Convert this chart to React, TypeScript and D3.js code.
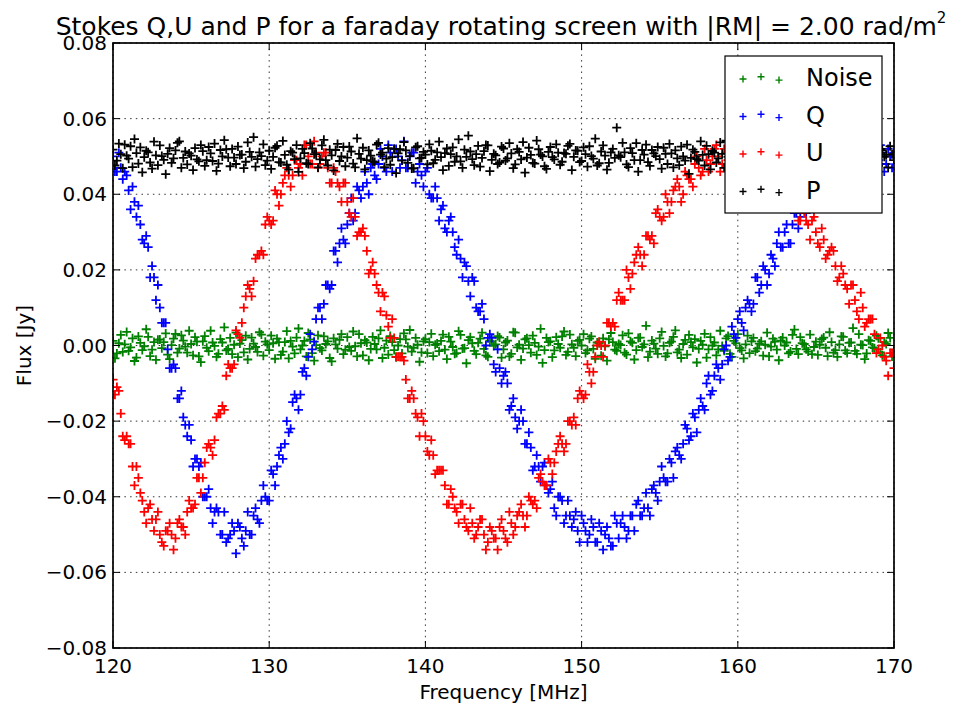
import { scaleLinear, range, format } from 'd3'

// readings every 0.125 MHz from 120 to 170 MHz, in mJy (one line per MHz for Q and U)
const freqStart = 120
const freqStep = 0.125

const noiseMJy = [
  1.2, -3.4, -2.1, 0.6, 2.8, -1.7, 0.3, 3.6, -1.4, -0.5, 1.9, -4.1, -3.2, 2.4, 0.7, -1.2, -0.2, 4.3, 2.3, -2.8,
  -1.1, 0.9, -3.8, 1.5, 1.6, -0.7, 0.9, 3.2, -2.4, -3.6, 0.1, 1.8, 3.1, -1.9, -0.8, 2.7, 1.3, -0.3, -1.9, 3.9,
  0.4, -2.6, 2.2, 1.0, -2.9, -4.4, 1.1, 2.5, -0.6, -1.5, 3.9, 0.8, -0.1, -3.0, -2.2, 1.7, 0.8, 4.8, -1.3, -0.9,
  2.0, -2.3, 0.2, 3.4, -3.1, 0.5, 1.4, -1.8, 2.6, -3.7, -0.9, 2.1, 0.5, -0.4, -1.7, 3.5, 2.9, -2.7, 1.0, 0.3,
  -1.2, 2.6, 0.6, -3.5, 1.8, 0.9, -2.5, -1.6, 0.9, 3.8, -3.4, 1.2, -0.3, -2.1, 2.1, 4.5, -1.0, 0.0, 1.2, -2.9,
  3.3, 1.6, -2.0, -4.0, 0.1, 2.7, -0.7, -1.3, 2.4, 0.4, 1.1, -3.3, -4.2, 1.9, 0.3, -0.8, 1.5, 3.0, -2.3, -1.1,
  2.2, -0.4, -1.4, 3.7, -0.2, -2.9, 3.0, 0.6, -2.6, 1.4, 0.8, -3.9, -0.9, 2.3, 0.4, -1.0, 1.9, 4.0, -3.3, -0.6,
  1.3, -2.4, 2.5, 0.9, -1.2, -3.1, 0.0, 1.7, -2.1, 3.2, 1.6, -0.3, 4.1, -1.6, -0.6, 2.0, 0.2, -4.3, -1.8, 1.1,
  1.7, -2.0, 0.9, 3.1, -2.8, 0.2, 0.5, -1.5, 1.2, 2.9, -1.1, -3.6, 2.3, 1.0, -0.4, -2.2, -2.0, 3.8, 2.8, -0.8,
  -0.7, -4.7, 1.4, 2.2, 0.6, -1.4, -2.3, 0.7, 1.8, 3.4, -0.9, -2.6, -3.0, 1.3, 1.0, -0.1, 0.3, 2.5, 2.1, -3.2,
  -1.0, 0.8, 1.3, -2.9, -2.2, 3.5, 3.4, -0.5, 0.2, -3.8, -0.8, 1.6, 1.9, 0.1, -1.9, 2.6, 0.7, -2.5, -0.3, 4.4,
  -4.6, -1.2, 2.0, 0.9, 1.1, -3.1, -1.3, 2.2, 0.4, -0.6, 2.4, 3.7, -2.5, -1.7, 2.9, 0.3, -0.6, -2.8, 1.2, 1.5,
  0.0, 3.0, -2.0, -1.3, 1.8, 2.4, -0.9, -3.5, 0.8, 0.6, -2.7, 1.9, -0.2, -4.0, 1.6, 3.3, 0.9, -1.1, -1.4, 0.4,
  0.1, 2.7, -1.9, -2.4, 3.2, 1.1, 0.7, -3.7, -1.2, 2.0, 2.1, -0.4, 0.3, 5.2, -3.1, -1.6, 1.3, 0.5, -0.8, -2.2,
  1.9, 3.6, -0.1, -2.9, -2.1, 0.7, 1.0, 2.3, 4.0, -1.8, -1.1, -3.3, 0.4, 1.5, -2.4, 2.8, 0.9, -0.5, 1.7, -4.5,
  -0.9, 1.2, 0.2, 3.1, -3.2, -1.0, 2.2, 0.0, 0.8, -2.6, -1.0, 3.9, -0.1, -1.4, 1.9, 2.5, -2.2, -3.0, 1.2, 0.6,
  3.0, -0.7, -1.3, -3.4, 0.3, 2.6, -2.0, 1.1, 2.0, -1.5, -0.8, 0.5, 1.1, -2.7, 0.2, 3.4, -2.9, -0.3, 1.8, 1.0,
  -1.1, -3.9, 1.3, 2.1, 0.0, 0.8, -2.1, -1.6, 2.8, 4.2, -0.9, -2.3, 2.2, 0.6, 0.4, -1.0, -1.6, 2.9, -2.3, -0.4,
  1.0, -2.5, 0.2, 1.7, 2.1, -0.6, -2.8, 3.5, 0.9, -1.9, -1.2, -3.0, 0.3, 2.4, 2.3, -1.3, -2.0, 0.7, 0.8, 4.6,
  -1.4, -2.2, 3.0, 0.2, 0.1, -3.6, -2.1, 1.4, 1.2, -0.5, -0.7, 2.6, 1.9, -1.8, -2.6, 0.9, 0.4, 3.3, 2.0, -2.9,
  -1.1,
]

const qMJy = [
  50, 46, 46, 51, 47, 44, 46, 45,
  41, 36, 42, 38, 34, 37, 32, 28,
  27, 29, 26, 18, 21, 18, 12, 16,
  10, 6, 6, 6, -1, -6, -6, -5,
  -6, -14, -14, -12, -19, -21, -24, -21,
  -25, -32, -30, -30, -32, -31, -40, -40,
  -40, -38, -43, -47, -44, -43, -44, -50,
  -50, -44, -52, -51, -50, -47, -49, -55,
  -47, -48, -51, -53, -49, -44, -50, -50,
  -45, -43, -46, -47, -41, -37, -40, -41,
  -41, -33, -34, -37, -32, -29, -27, -30,
  -26, -20, -23, -22, -15, -13, -14, -17,
  -13, -7, -6, -8, -3, 3, -1, 1,
  7, 10, 10, 7, 11, 16, 16, 15,
  16, 25, 25, 22, 27, 31, 28, 27,
  32, 35, 39, 33, 35, 42, 41, 39,
  42, 46, 43, 40, 47, 48, 45, 44,
  48, 52, 50, 47, 46, 53, 51, 46,
  52, 52, 50, 47, 49, 54, 47, 47,
  50, 51, 51, 43, 46, 48, 45, 42,
  46, 47, 40, 39, 39, 42, 39, 33,
  36, 37, 31, 30, 33, 34, 30, 26,
  24, 28, 23, 18, 22, 21, 17, 13,
  18, 17, 10, 9, 9, 11, 7, 0,
  2, 3, 2, -5, -7, -1, -6, -10,
  -8, -7, -10, -17, -16, -14, -19, -22,
  -20, -17, -20, -26, -26, -23, -27, -33,
  -32, -29, -32, -36, -32, -31, -37, -39,
  -38, -36, -43, -45, -40, -40, -41, -47,
  -45, -41, -45, -48, -46, -44, -49, -52,
  -45, -47, -49, -52, -50, -46, -48, -52,
  -52, -47, -49, -54, -50, -48, -51, -53,
  -53, -45, -47, -51, -47, -45, -48, -51,
  -49, -45, -45, -49, -42, -41, -45, -45,
  -43, -39, -43, -45, -38, -37, -39, -41,
  -36, -32, -35, -36, -36, -30, -31, -35,
  -28, -27, -29, -30, -26, -21, -22, -25,
  -24, -18, -19, -23, -17, -14, -16, -17,
  -10, -8, -13, -12, -8, -5, -6, -9,
  -5, -1, 0, -4, -3, 5, 3, 2,
  7, 9, 6, 4, 10, 12, 11, 9,
  11, 18, 18, 14, 16, 21, 20, 16,
  19, 24, 23, 21, 27, 30, 26, 26,
  30, 32, 27, 27, 32, 35, 35, 31,
  34, 40, 37, 35, 36, 41, 39, 36,
  43, 43, 40, 39, 43, 47, 41, 42,
  44, 48, 47, 42, 45, 48, 48, 44,
  44, 52, 48, 46, 51, 52, 48, 45,
  50, 52, 48, 47, 50, 54, 53, 48,
  49, 53, 51, 46, 48, 52, 50, 47,
  51,
]

const uMJy = [
  -9, -13, -11, -12, -18, -24, -25, -24,
  -26, -26, -32, -37, -32, -35, -39, -41,
  -44, -47, -43, -42, -46, -49, -46, -44,
  -50, -52, -53, -49, -49, -47, -50, -54,
  -51, -47, -46, -48, -48, -50, -44, -41,
  -43, -43, -42, -35, -35, -39, -35, -31,
  -27, -26, -27, -29, -25, -19, -18, -18,
  -16, -17, -8, -5, -6, -6, -5, 4,
  3, 2, 6, 10, 13, 16, 15, 13,
  17, 23, 24, 24, 25, 24, 32, 34,
  33, 32, 33, 41, 40, 37, 40, 43,
  45, 47, 45, 42, 45, 49, 49, 47,
  48, 45, 53, 53, 50, 48, 48, 54,
  51, 47, 48, 50, 51, 51, 47, 43,
  43, 47, 46, 43, 42, 38, 43, 43,
  38, 35, 34, 39, 34, 29, 30, 30,
  31, 29, 25, 19, 20, 22, 19, 16,
  14, 9, 14, 13, 8, 5, 2, 7,
  2, -3, -3, -3, -3, -4, -9, -14,
  -14, -12, -14, -18, -19, -24, -18, -20,
  -24, -28, -29, -25, -29, -34, -33, -33,
  -33, -33, -37, -42, -42, -38, -40, -43,
  -44, -47, -42, -42, -46, -48, -49, -43,
  -47, -51, -50, -48, -46, -46, -50, -54,
  -52, -48, -49, -51, -51, -54, -48, -46,
  -49, -51, -52, -44, -47, -50, -48, -45,
  -44, -42, -45, -48, -45, -40, -41, -42,
  -41, -43, -35, -34, -36, -37, -37, -30,
  -31, -34, -31, -28, -26, -24, -26, -28,
  -26, -20, -20, -21, -19, -21, -14, -12,
  -13, -14, -13, -5, -7, -10, -7, -3,
  0, 1, 0, -3, 0, 6, 6, 5,
  6, 5, 12, 14, 12, 12, 12, 20,
  18, 15, 19, 22, 24, 26, 24, 21,
  24, 29, 29, 28, 29, 27, 35, 36,
  34, 33, 34, 40, 38, 35, 38, 41,
  42, 44, 42, 38, 40, 46, 45, 44,
  44, 42, 48, 50, 47, 45, 46, 52,
  49, 46, 48, 50, 52, 53, 50, 46,
  48, 52, 51, 49, 49, 46, 52, 53,
  50, 48, 47, 53, 50, 46, 48, 50,
  50, 51, 48, 43, 45, 49, 47, 45,
  44, 41, 47, 47, 43, 41, 40, 46,
  42, 38, 39, 40, 41, 41, 37, 33,
  33, 37, 35, 33, 32, 28, 33, 34,
  30, 27, 26, 31, 28, 23, 24, 25,
  26, 25, 21, 17, 18, 21, 19, 16,
  15, 11, 16, 16, 12, 9, 7, 14,
  10, 5, 6, 7, 7, 7, 3, -2,
  -1, 2, 0, -3, -4, -8, -2, -2,
  -6,
]

const pMJy = [
  51.8, 47.6, 48.9, 53.4, 50.6, 46.9, 53.1, 50.2, 49.4, 52.7, 47.2, 54.6, 50.9, 48.1, 52.4, 45.8, 49.8, 51.5, 51.1, 48.4,
  46.8, 53.9, 50.3, 47.7, 52.9, 50.1, 49.1, 45.3, 50.7, 52.2, 48.3, 49.5, 51.6, 53.6, 54.0, 47.0, 49.6, 51.3, 47.9, 50.8,
  50.2, 46.4, 52.2, 49.2, 48.7, 53.0, 51.4, 47.5, 49.0, 52.5, 50.8, 48.8, 53.4, 46.2, 48.1, 51.7, 50.0, 54.3, 51.9, 49.7,
  47.4, 52.0, 49.7, 48.0, 52.6, 50.4, 50.5, 46.9, 48.6, 53.7, 51.2, 49.9, 55.1, 47.3, 49.3, 51.1, 50.1, 53.2, 47.7, 48.9,
  51.5, 46.7, 49.9, 52.3, 52.8, 48.5, 48.4, 54.1, 50.4, 47.8, 46.5, 51.4, 51.0, 49.3, 53.0, 45.9, 49.5, 52.0, 50.9, 48.2,
  48.0, 53.5, 52.1, 50.6, 50.6, 47.1, 49.2, 52.9, 54.4, 49.0, 47.6, 51.8, 50.3, 46.3, 51.7, 53.3, 48.8, 50.0, 52.5, 47.4,
  49.7, 52.6, 51.3, 48.1, 47.1, 54.8, 50.7, 49.4, 52.3, 46.6, 49.0, 51.6, 50.2, 48.7, 48.5, 53.1, 53.6, 50.5, 51.0, 47.2,
  49.4, 52.2, 47.8, 49.8, 52.0, 45.6, 50.8, 51.9, 48.9, 53.8, 51.6, 48.3, 50.1, 46.8, 46.9, 52.4, 52.7, 49.5, 49.6, 51.2,
  50.5, 47.9, 53.2, 51.5, 48.2, 49.1, 51.1, 53.9, 49.8, 46.4, 50.9, 52.1, 47.5, 50.6, 52.4, 48.6, 50.0, 54.5, 48.7, 47.0,
  51.8, 49.9, 55.5, 51.3, 49.3, 47.7, 50.6, 52.8, 47.3, 49.6, 51.4, 53.0, 52.9, 46.1, 49.1, 50.7, 50.3, 48.0, 48.4, 52.6,
  52.1, 48.9, 49.5, 53.5, 50.8, 46.9, 47.9, 51.9, 51.2, 49.2, 53.8, 45.7, 49.7, 52.3, 50.4, 48.3, 48.1, 54.2, 51.9, 50.5,
  50.0, 47.4, 46.7, 51.2, 52.5, 49.8, 49.2, 53.2, 51.0, 47.8, 48.6, 50.9, 50.7, 52.8, 53.3, 46.4, 49.9, 51.6, 51.5, 48.5,
  48.8, 52.4, 50.6, 47.3, 52.7, 50.1, 49.4, 54.7, 47.6, 48.2, 51.3, 52.9, 50.2, 46.5, 48.3, 51.1, 52.0, 49.6, 57.6, 50.3,
  49.8, 53.6, 51.1, 47.9, 47.2, 52.2, 50.9, 49.0, 53.5, 46.0, 49.0, 51.7, 50.5, 53.1, 48.5, 47.5, 51.7, 50.8, 50.1, 52.5,
  49.3, 46.8, 52.3, 50.7, 48.0, 53.3, 50.8, 47.1, 51.6, 49.5, 47.7, 52.6, 50.0, 48.9, 53.1, 45.4, 49.6, 51.8, 51.2, 49.3,
  48.9, 54.0, 50.4, 47.6, 52.8, 50.6, 46.6, 51.5, 51.0, 48.4, 49.5, 53.7, 50.7, 47.0, 54.2, 49.9, 48.2, 52.1, 51.4, 47.8,
  50.3, 53.4, 48.6, 47.2, 52.2, 50.9, 49.9, 46.3, 51.1, 52.7, 47.4, 49.7, 50.6, 53.2, 53.7, 48.1, 49.2, 51.0, 50.9, 46.7,
  48.4, 52.4, 51.8, 49.4, 50.1, 47.9, 55.0, 51.6, 49.0, 48.6, 51.3, 53.0, 47.9, 50.2, 50.5, 46.0, 52.6, 51.9, 49.7, 48.8,
  51.0, 47.5, 49.1, 52.8, 50.7, 49.6, 52.9, 46.9, 48.3, 51.4, 50.2, 53.7, 51.5, 48.0, 47.3, 50.5, 50.8, 52.3, 53.4, 47.7,
  49.4, 51.1, 51.2, 54.1, 48.7, 49.3, 50.0, 46.4, 52.1, 51.8, 49.8, 48.2, 47.5, 52.0, 51.6, 49.9, 50.4, 47.1, 52.7, 50.6,
  49.0,
]

const seriesLabels = ['Noise', 'Q', 'U', 'P']
const seriesColors = ['#008000', '#0000ff', '#ff0000', '#000000']
const seriesValues = [noiseMJy, qMJy, uMJy, pMJy]

const xTicks = [120, 130, 140, 150, 160, 170]
const yTicks = [-0.08, -0.06, -0.04, -0.02, 0, 0.02, 0.04, 0.06, 0.08]

const font = '"DejaVu Sans", "Bitstream Vera Sans", sans-serif'

// '+' marker centered at (x, y)
function cross(x, y, h) {
  return `M${x - h},${y}H${x + h}M${x},${y - h}V${y + h}`
}

export default function App() {
  const width = 959
  const height = 706
  const plot = { left: 113, right: 894, top: 43, bottom: 648 }
  const tickLen = 7
  const r = 4.5

  const xScale = scaleLinear().domain([120, 170]).range([plot.left, plot.right])
  const yScale = scaleLinear().domain([-0.08, 0.08]).range([plot.bottom, plot.top])
  const fmt = format('.2f')

  const freqs = range(noiseMJy.length).map(i => freqStart + i * freqStep)

  const legendRows = seriesLabels.map((label, i) => ({
    label,
    color: seriesColors[i],
    y: 79 + i * 37.5,
  }))
  const legendXs = [743, 761, 779]
  const legendDy = [0, -2.2, 1.1]

  return (
    <svg width={width} height={height} style={{ position: 'absolute', left: 0, top: 0, background: 'white' }}
      fontFamily={font}>
      <defs>
        <clipPath id="plot-area">
          <rect x={plot.left} y={plot.top} width={plot.right - plot.left} height={plot.bottom - plot.top} />
        </clipPath>
      </defs>
      <rect width={width} height={height} fill="white" />

      {/* grid */}
      <g stroke="black" strokeWidth={0.8} strokeDasharray="1.5,4.2">
        {xTicks.map(t =>
          <line key={'gx' + t} x1={xScale(t)} x2={xScale(t)} y1={plot.top} y2={plot.bottom} />)}
        {yTicks.map(t =>
          <line key={'gy' + t} x1={plot.left} x2={plot.right} y1={yScale(t)} y2={yScale(t)} />)}
      </g>

      {/* data */}
      <g clipPath="url(#plot-area)" fill="none" strokeWidth={1.8}>
        {seriesValues.map((values, s) =>
          <path key={seriesLabels[s]} stroke={seriesColors[s]}
            d={values.map((v, i) => cross(xScale(freqs[i]), yScale(v / 1000), r)).join('')} />
        )}
      </g>

      {/* ticks */}
      <g stroke="black" strokeWidth={1}>
        {xTicks.map(t =>
          <g key={'tx' + t}>
            <line x1={xScale(t)} x2={xScale(t)} y1={plot.bottom} y2={plot.bottom - tickLen} />
            <line x1={xScale(t)} x2={xScale(t)} y1={plot.top} y2={plot.top + tickLen} />
          </g>)}
        {yTicks.map(t =>
          <g key={'ty' + t}>
            <line x1={plot.left} x2={plot.left + tickLen} y1={yScale(t)} y2={yScale(t)} />
            <line x1={plot.right} x2={plot.right - tickLen} y1={yScale(t)} y2={yScale(t)} />
          </g>)}
      </g>
      <rect x={plot.left} y={plot.top} width={plot.right - plot.left} height={plot.bottom - plot.top}
        fill="none" stroke="black" strokeWidth={1.7} />

      {/* tick labels */}
      <g fontSize={20} fill="black">
        {xTicks.map(t =>
          <text key={'lx' + t} x={xScale(t)} y={673} textAnchor="middle">{t}</text>)}
        {yTicks.map(t =>
          <text key={'ly' + t} x={plot.left - 6} y={yScale(t) + 7} textAnchor="end">{fmt(t)}</text>)}
      </g>

      {/* axis labels and title */}
      <text x={(plot.left + plot.right) / 2} y={699} textAnchor="middle" fontSize={20}>Frequency [MHz]</text>
      <text transform={`translate(31,${(plot.top + plot.bottom) / 2}) rotate(-90)`} textAnchor="middle"
        fontSize={20}>Flux [Jy]</text>
      <text x={501} y={35} textAnchor="middle" fontSize={25}>
        Stokes Q,U and P for a faraday rotating screen with |RM| = 2.00 rad/m
        <tspan fontSize={15} dy={-12}>2</tspan>
      </text>

      {/* legend */}
      <g>
        <rect x={725} y={56} width={157} height={157} fill="white" stroke="black" strokeWidth={1.2} />
        {legendRows.map(row =>
          <g key={row.label}>
            <path stroke={row.color} strokeWidth={1.4} fill="none"
              d={legendXs.map((lx, j) => cross(lx, row.y + legendDy[j], 3.5)).join('')} />
            <text x={806} y={row.y + 7} fontSize={24}>{row.label}</text>
          </g>)}
      </g>
    </svg>
  )
}
